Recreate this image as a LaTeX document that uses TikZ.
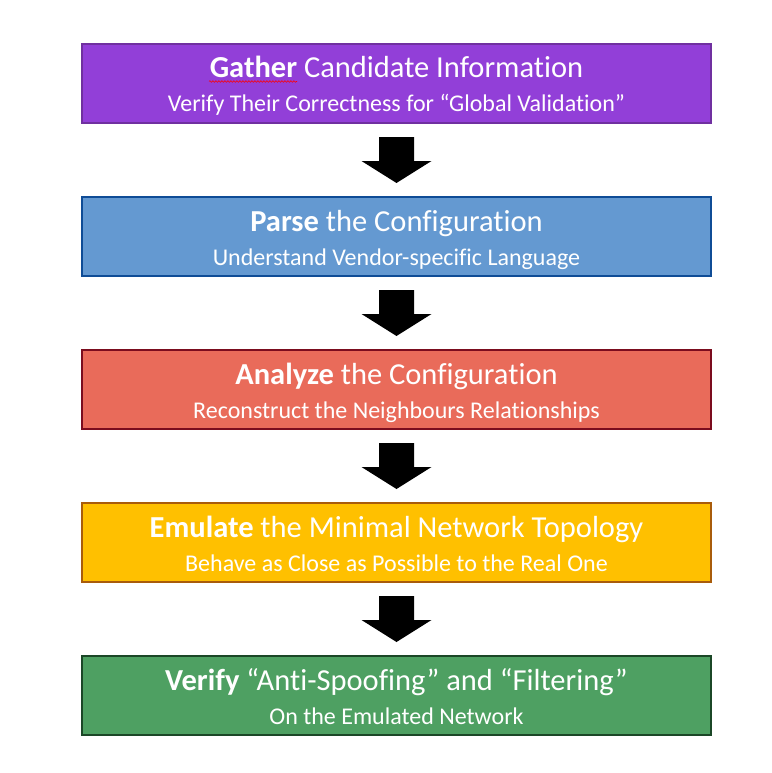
\documentclass[tikz,border=0pt]{standalone}
\usepackage{fontspec}
\setmainfont{Carlito}[Ligatures=NoCommon]
\usetikzlibrary{positioning,calc,decorations.pathmorphing}

\definecolor{gatherfill}{HTML}{923FD8}
\definecolor{gatherline}{HTML}{7030A0}
\definecolor{parsefill}{HTML}{6499D1}
\definecolor{parseline}{HTML}{0F4C96}
\definecolor{analyzefill}{HTML}{E96B5A}
\definecolor{analyzeline}{HTML}{7B0C1E}
\definecolor{emulatefill}{HTML}{FFC000}
\definecolor{emulateline}{HTML}{A95C0B}
\definecolor{verifyfill}{HTML}{4EA062}
\definecolor{verifyline}{HTML}{1B4727}

\tikzset{
  stage/.style={draw,line width=2pt,minimum width=629pt,minimum height=79pt,
    inner sep=0pt,align=center,text=white,text height=61pt,text depth=4pt,
    font=\fontsize{24}{34}\selectfont},
  blockarrow/.style={fill=black}
}
\newcommand{\headline}[2]{{\fontsize{30.5}{34}\selectfont\textbf{#1} #2}}

\begin{document}
\begin{tikzpicture}[x=1pt,y=-1pt]
\useasboundingbox (0,0) rectangle (771,773);
\node[stage,fill=gatherfill,draw=gatherline] (gather) at (396.5,83.5)
  {\headline{Gather}{Candidate Information}\\Verify Their Correctness for “Global Validation”};
\node[stage,fill=parsefill,draw=parseline,below=72pt of gather] (parse)
  {\headline{Parse}{the Configuration}\\Understand Vendor-specific Language};
\node[stage,fill=analyzefill,draw=analyzeline,below=72pt of parse] (analyze)
  {\headline{Analyze}{the Configuration}\\Reconstruct the Neighbours Relationships};
\node[stage,fill=emulatefill,draw=emulateline,below=72pt of analyze] (emulate)
  {\headline{Emulate}{the Minimal Network Topology}\\Behave as Close as Possible to the Real One};
\node[stage,fill=verifyfill,draw=verifyline,below=72pt of emulate] (verify)
  {\headline{Verify}{“Anti-Spoofing” and “Filtering”}\\On the Emulated Network};
% block arrows between the stages
\coordinate (a1) at ($(gather.south)!0.5!(parse.north)$);
\coordinate (a2) at ($(parse.south)!0.5!(analyze.north)$);
\coordinate (a3) at ($(analyze.south)!0.5!(emulate.north)$);
\coordinate (a4) at ($(emulate.south)!0.5!(verify.north)$);
\foreach \a in {a1,a2,a3,a4}
  \fill[blockarrow] (\a) ++(-17.5,-23) -- ++(35,0) -- ++(0,24) -- ++(17.5,0)
    -- ++(-35,22) -- ++(-35,-22) -- ++(17.5,0) -- cycle;
% spell-check mark under the first word
\draw[red,line width=0.6pt,decorate,decoration={snake,amplitude=0.8pt,segment length=3pt}]
  (209,81.5) -- (297,81.5);
\end{tikzpicture}
\end{document}
